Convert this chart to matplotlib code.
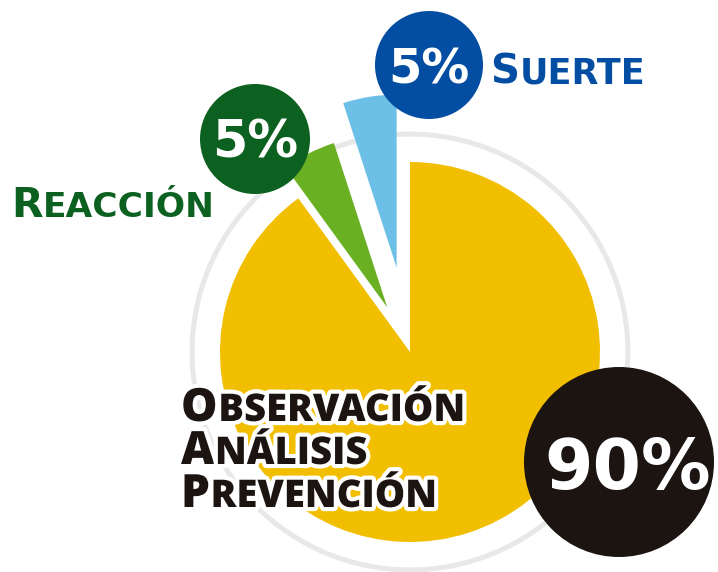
import matplotlib
matplotlib.use("Agg")
import matplotlib.pyplot as plt
import matplotlib.patheffects as pe
from matplotlib.patches import Circle

# data
labels = ["Observación\nAnálisis\nPrevención", "Reacción", "Suerte"]
shares = [90, 5, 5]
pct_labels = ["90%", "5%", "5%"]
explode = [0.0, 0.263, 0.45]

wedge_colors = ["#F2BF00", "#6AB023", "#6CC0E8"]
badge_colors = ["#1B1411", "#0C6120", "#034EA2"]

WIDE = "DejaVu Sans"
NARROW = "Open Sans"
W, H = 718, 572
CX, CY, S = 410, 352, 190  # pie centre and radius in pixels


def px(x, y):
    # pixel layout -> pie units
    return (x - CX) / S, (CY - y) / S


fig = plt.figure(figsize=(W / 100, H / 100), dpi=100)
ax = fig.add_axes([0, 0, 1, 1])

# grey ring behind the pie
ax.add_patch(Circle((0, 0), 1.147, fill=False, ec="#E8E8E8", lw=3.6, zorder=0))

wedges, _ = ax.pie(shares, colors=wedge_colors, startangle=90, counterclock=False,
                   explode=explode, radius=1, wedgeprops=dict(linewidth=0))
for w in wedges:
    w.set_zorder(1)
wedges[1].set_radius(0.91)
wedges[2].set_radius(0.91)

ax.set_xlim(-CX / S, (W - CX) / S)
ax.set_ylim(-(H - CY) / S, CY / S)
ax.set_aspect("auto")
ax.axis("off")

# badges: centre px, radius px, text baseline px, text centre x, fontsize
badges = [((619, 462), 95, 489, 628, 50),
          ((255, 139), 55, 158, 255, 36.5),
          ((429, 65), 54, 83, 429, 34.5)]
for (pos, r, base, tx, fs), col, txt in zip(badges, badge_colors, pct_labels):
    ax.add_patch(Circle(px(*pos), r / S, fc=col, ec="none", zorder=3))
    ax.text(*px(tx, base), txt, color="white", fontsize=fs, fontfamily=WIDE,
            fontweight="bold", ha="center", va="baseline", zorder=4)


def small_caps(word, x, y, big, small, color, family, weight, stroke=None):
    X, Y = px(x, y)
    kw = dict(color=color, fontfamily=family, fontweight=weight, zorder=5)
    if stroke:
        kw["path_effects"] = [pe.withStroke(linewidth=stroke, foreground="white")]
    head = ax.text(X, Y, word[0], fontsize=big, ha="left", va="baseline", **kw)
    ax.annotate(word[1:].upper(), xy=(1, Y), xycoords=(head, "data"),
                xytext=(0.5, 0), textcoords="offset points",
                fontsize=small, ha="left", va="baseline", **kw)


small_caps(labels[1], 11, 217, 29.5, 24.8, badge_colors[1], WIDE, "bold")
small_caps(labels[2], 490, 83, 29, 25.2, badge_colors[2], WIDE, "bold")
for i, line in enumerate(labels[0].split("\n")):
    small_caps(line, 181, 421 + 43 * i, 33, 27.5, badge_colors[0], NARROW, "heavy",
               stroke=6)

fig.savefig("out.png", dpi=100, facecolor="white")
